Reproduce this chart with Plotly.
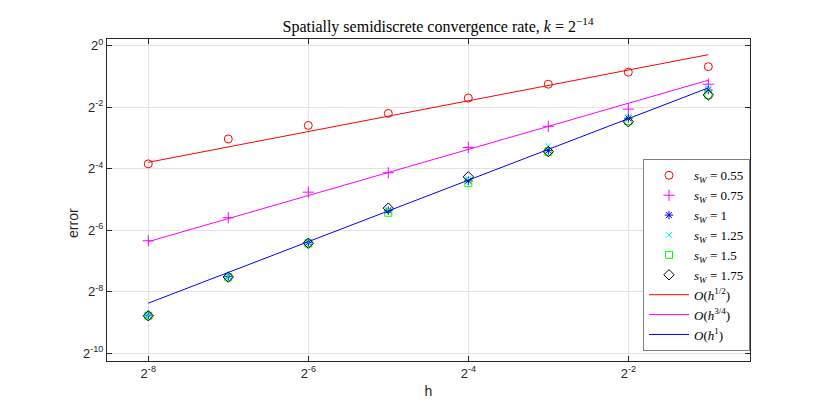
import numpy as np
import plotly.graph_objects as go

# mesh sizes h = 2^-8 ... 2^-1 (exponents of 2)
h_exp = [-8, -7, -6, -5, -4, -3, -2, -1]

err_055 = [-3.84, -3.03, -2.59, -2.20, -1.70, -1.25, -0.86, -0.68]
err_075 = [-6.34, -5.59, -4.76, -4.13, -3.31, -2.62, -2.06, -1.25]
err_100 = [-8.76, -7.50, -6.40, -5.36, -4.39, -3.41, -2.36, -1.44]
err_125 = [-8.76, -7.49, -6.38, -5.33, -4.33, -3.26, -2.31, -1.38]
err_150 = [-8.78, -7.53, -6.43, -5.43, -4.47, -3.45, -2.45, -1.60]
err_175 = [-8.78, -7.52, -6.42, -5.28, -4.26, -3.44, -2.47, -1.60]

# reference slopes, drawn between first and last h
ref_h_exp = [-8, -1]
ref_half = [-3.79, -0.29]
ref_three_quarter = [-6.37, -1.12]
ref_one = [-8.37, -1.37]

xtick_exp = [-8, -6, -4, -2]
ytick_exp = [0, -2, -4, -6, -8, -10]

h = 2.0 ** np.array(h_exp)
h_ref = 2.0 ** np.array(ref_h_exp)

series = [
    (err_055, '0.55', 'circle-open', 'red', 8),
    (err_075, '0.75', 'cross-thin-open', 'magenta', 8),
    (err_100, '1', 'asterisk-open', 'blue', 7),
    (err_125, '1.25', 'x-thin-open', 'cyan', 6),
    (err_150, '1.5', 'square-open', '#00ff00', 7),
    (err_175, '1.75', 'diamond-open', 'black', 8),
]
refs = [
    (ref_half, '1/2', 'red'),
    (ref_three_quarter, '3/4', 'magenta'),
    (ref_one, '1', 'blue'),
]

fig = go.Figure()
for vals, s, sym, col, size in series:
    fig.add_trace(go.Scatter(x=h, y=2.0 ** np.array(vals), mode='markers',
                             name=f'<i>s</i><sub><i>W</i></sub> = {s}',
                             marker=dict(symbol=sym, size=size, color=col,
                                         line=dict(width=1, color=col))))
for vals, p, col in refs:
    fig.add_trace(go.Scatter(x=h_ref, y=2.0 ** np.array(vals), mode='lines',
                             name=f'<i>O</i>(<i>h</i><sup>{p}</sup>)',
                             line=dict(color=col, width=1)))

axis_style = dict(type='log', showline=True, linecolor='#262626', linewidth=1,
                  mirror='ticks', ticks='inside', ticklen=5, tickcolor='#262626',
                  showgrid=True, gridcolor='#e3e3e3', gridwidth=1, zeroline=False,
                  automargin=False,
                  tickfont=dict(family='Liberation Sans, Arial', size=13, color='#262626'))

fig.update_xaxes(**axis_style,
                 tickvals=list(2.0 ** np.array(xtick_exp)),
                 ticktext=[f'2<sup>{e}</sup>' for e in xtick_exp],
                 range=[-8.516 * np.log10(2), -0.479 * np.log10(2)],
                 title=dict(text='h', standoff=6,
                            font=dict(family='Liberation Sans, Arial', size=14, color='#262626')))
fig.update_yaxes(**axis_style,
                 tickvals=list(2.0 ** np.array(ytick_exp)),
                 ticktext=[f'2<sup>{e}</sup>' for e in ytick_exp],
                 range=[-10.25 * np.log10(2), 0.22 * np.log10(2)])

fig.add_annotation(text='error', textangle=-90, xref='paper', yref='paper',
                   x=-0.053, y=0.4286, xanchor='center', yanchor='middle', showarrow=False,
                   font=dict(family='Liberation Sans, Arial', size=14, color='#262626'))

# page body adds an 8px offset, so the margins are shifted to compensate
fig.update_layout(
    width=830, height=416,
    margin=dict(l=99, r=88, t=31, b=63),
    paper_bgcolor='white', plot_bgcolor='white',
    title=dict(text='Spatially semidiscrete convergence rate, <i>k</i> = 2<sup>\u221214</sup>',
               x=430 / 830, xanchor='center', y=1 - 18 / 416, yanchor='middle',
               font=dict(family='Liberation Serif, DejaVu Serif', size=16, color='black')),
    legend=dict(x=1, xanchor='right', y=0.03, yanchor='bottom',
                bgcolor='white', bordercolor='#7f7f7f', borderwidth=1,
                font=dict(family='Liberation Serif, DejaVu Serif', size=13, color='black'),
                tracegroupgap=0, itemwidth=40),
    showlegend=True,
)

fig.write_html('out.html')
